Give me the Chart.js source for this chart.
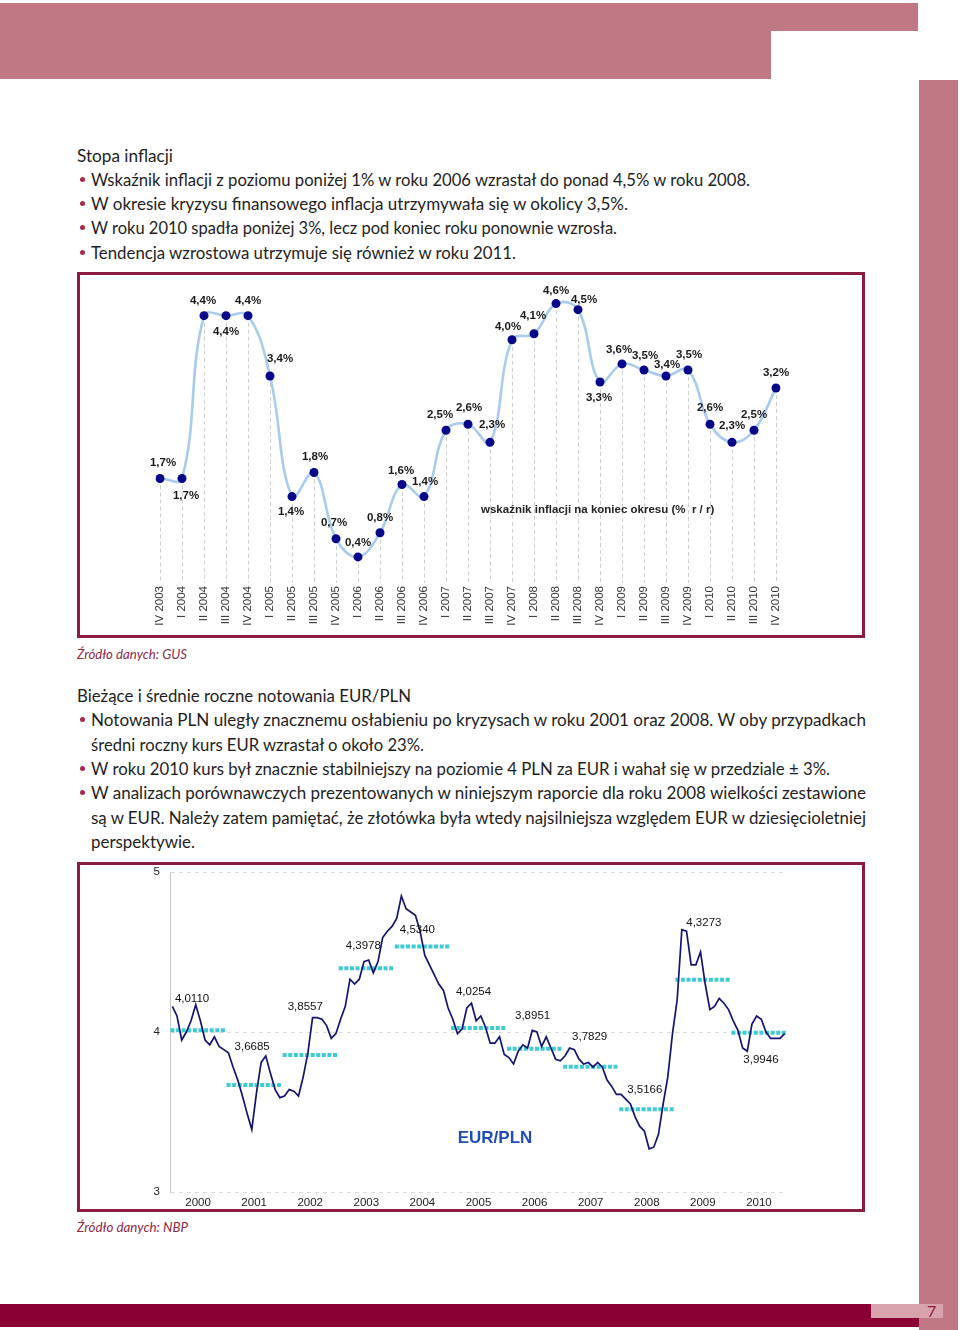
<!DOCTYPE html>
<html><head><meta charset="utf-8">
<script src="https://cdn.jsdelivr.net/npm/chart.js@4"></script>
<style>
body{margin:0;background:#fff;}
#page{position:relative;width:960px;height:1330px;overflow:hidden;background:#fff;font-family:Lato,'Open Sans',sans-serif;color:#1e1e1e;}
.blk{position:absolute;}
.ln{position:absolute;left:91px;font-size:18px;line-height:24px;height:24px;white-space:nowrap;transform-origin:0 50%;display:inline-block;}
.hd{left:77px;}
.dot{position:absolute;left:80px;width:5px;height:5px;border-radius:50%;background:#a3294d;}
.src{position:absolute;left:77px;font-size:14px;font-style:italic;color:#8b2a47;white-space:nowrap;line-height:18px;transform-origin:0 50%;display:inline-block;}
.box{position:absolute;left:77px;width:782px;border:3px solid #8a1c3f;background:#fff;}
.cv{position:absolute;left:0;top:0;}
</style>
</head><body>
<div id="page">
  <div class="blk" style="left:0;top:3px;width:918px;height:28px;background:#c07884"></div>
  <div class="blk" style="left:0;top:31px;width:771px;height:48px;background:#c07884"></div>
  <div class="blk" style="left:919px;top:80px;width:39px;height:1250px;background:#c07884"></div>
  <div class="blk" style="left:0;top:1304px;width:919px;height:23px;background:#8b0034"></div>
  <div class="blk" style="left:871px;top:1304px;width:72px;height:14px;background:#d9a3ad"></div>
  <div class="blk" style="left:927px;top:1302px;font-size:16px;line-height:18px;color:#8b1a3a;font-family:Lato,sans-serif">7</div>

  <div class="ln hd" data-w="96" style="top:143px">Stopa inflacji</div>
  <div class="dot" style="top:177px"></div>
  <div class="ln" data-w="659" style="top:167px">Wskaźnik inflacji z poziomu poniżej 1% w roku 2006 wzrastał do ponad 4,5% w roku 2008.</div>
  <div class="dot" style="top:201px"></div>
  <div class="ln" data-w="537" style="top:191px">W okresie kryzysu finansowego inflacja utrzymywała się w okolicy 3,5%.</div>
  <div class="dot" style="top:225px"></div>
  <div class="ln" data-w="526" style="top:215px">W roku 2010 spadła poniżej 3%, lecz pod koniec roku ponownie wzrosła.</div>
  <div class="dot" style="top:250px"></div>
  <div class="ln" data-w="425" style="top:240px">Tendencja wzrostowa utrzymuje się również w roku 2011.</div>

  <div class="box" style="top:272px;height:360px;">
    <canvas id="c1" class="cv" width="782" height="360"></canvas>
    <div style="position:absolute;left:401px;top:228px;font:bold 11.5px 'Liberation Sans',Arial,sans-serif;color:#222;white-space:nowrap">wskaźnik inflacji na koniec okresu (% &nbsp;r / r)</div>
  </div>

  <div class="src" data-w="110" style="top:645px">Źródło danych: GUS</div>

  <div class="ln hd" data-w="334" style="top:683px">Bieżące i średnie roczne notowania EUR/PLN</div>
  <div class="dot" style="top:717px"></div>
  <div class="ln" data-w="775" style="top:707px">Notowania PLN uległy znacznemu osłabieniu po kryzysach w roku 2001 oraz 2008. W oby przypadkach</div>
  <div class="ln" data-w="333" style="top:732px">średni roczny kurs EUR wzrastał o około 23%.</div>
  <div class="dot" style="top:766px"></div>
  <div class="ln" data-w="739" style="top:756px">W roku 2010 kurs był znacznie stabilniejszy na poziomie 4 PLN za EUR i wahał się w przedziale ± 3%.</div>
  <div class="dot" style="top:790px"></div>
  <div class="ln" data-w="775" style="top:780px">W analizach porównawczych prezentowanych w niniejszym raporcie dla roku 2008 wielkości zestawione</div>
  <div class="ln" data-w="775" style="top:805px">są w EUR. Należy zatem pamiętać, że złotówka była wtedy najsilniejsza względem EUR w dziesięcioletniej</div>
  <div class="ln" data-w="104" style="top:829px">perspektywie.</div>

  <div class="box" style="top:862px;height:344px;">
    <canvas id="c2" class="cv" width="782" height="344"></canvas>
    <div style="position:absolute;left:415px;top:263px;width:0;"><div style="position:absolute;transform:translateX(-50%);font:bold 17px 'Liberation Sans',Arial,sans-serif;color:#1f4db5;white-space:nowrap">EUR/PLN</div></div>
  </div>

  <div class="src" data-w="111" style="top:1218px">Źródło danych: NBP</div>
</div>

<script>
// ---------- DATA ----------
const quarters = ['IV 2003','I 2004','II 2004','III 2004','IV 2004','I 2005','II 2005','III 2005','IV 2005',
  'I 2006','II 2006','III 2006','IV 2006','I 2007','II 2007','III 2007','IV 2007','I 2008','II 2008','III 2008',
  'IV 2008','I 2009','II 2009','III 2009','IV 2009','I 2010','II 2010','III 2010','IV 2010'];
const inflation = [1.7,1.7,4.4,4.4,4.4,3.4,1.4,1.8,0.7,0.4,0.8,1.6,1.4,2.5,2.6,2.3,4.0,4.1,4.6,4.5,3.3,3.6,3.5,3.4,3.5,2.6,2.3,2.5,3.2];

const years = ['2000','2001','2002','2003','2004','2005','2006','2007','2008','2009','2010'];
const eurAnnualAvg = [4.0110,3.6685,3.8557,4.3978,4.5340,4.0254,3.8951,3.7829,3.5166,4.3273,3.9946];
const eurMonthly = [
  4.16,4.10,3.95,4.00,4.07,4.17,4.07,3.95,3.92,3.97,3.91,3.89,
  3.87,3.78,3.70,3.60,3.49,3.39,3.62,3.81,3.85,3.74,3.64,3.59,
  3.60,3.64,3.63,3.60,3.72,3.87,4.09,4.09,4.08,4.04,3.96,3.99,
  4.08,4.16,4.33,4.30,4.33,4.44,4.45,4.37,4.44,4.59,4.63,4.66,
  4.71,4.85,4.77,4.75,4.73,4.63,4.48,4.42,4.36,4.30,4.26,4.15,
  4.08,3.99,4.02,4.15,4.18,4.07,4.10,4.03,3.93,3.93,3.97,3.86,
  3.84,3.80,3.88,3.92,3.90,4.01,4.00,3.91,3.97,3.90,3.83,3.82,
  3.85,3.90,3.89,3.83,3.80,3.81,3.78,3.81,3.78,3.70,3.66,3.61,
  3.61,3.58,3.55,3.47,3.41,3.38,3.27,3.28,3.36,3.55,3.72,3.99,
  4.20,4.64,4.63,4.42,4.42,4.50,4.30,4.14,4.16,4.21,4.18,4.14,
  4.07,4.01,3.90,3.88,4.05,4.10,4.08,4.00,3.96,3.96,3.96,3.99
];

// ---------- STYLE (label placement) ----------
const infDx = [3,4,-1,0,0,10,-1,1,-2,0,0,-1,1,-6,1,2,-4,-1,0,6,-1,-3,1,1,1,0,0,0,0];
const infDy = [-16,17,-15,16,-15,-17,15,-16,-16,-14,-15,-14,-15,-15,-16,-17,-13,-18,-13,-10,16,-14,-14,-11,-15,-16,-16,-15,-15];
const avgDx = [-6,-2,-5,-3,-5,-5,-2,-1,-2,1,2];
const avgDy = [-31,-38,-48,-23,-17,-36,-33,-30,-20,-57,27];

const AR = "'Liberation Sans', Arial, sans-serif";

// ---------- CHART 1 ----------
const dropLines = {
  id:'dropLines',
  beforeDatasetsDraw(chart){
    const ctx = chart.ctx, meta = chart.getDatasetMeta(0), bottom = chart.chartArea.bottom + 2;
    ctx.save();
    ctx.strokeStyle = '#cfcfcf'; ctx.lineWidth = 1; ctx.setLineDash([4,3]);
    meta.data.forEach(p => { ctx.beginPath(); ctx.moveTo(Math.round(p.x)+0.5, p.y); ctx.lineTo(Math.round(p.x)+0.5, bottom); ctx.stroke(); });
    ctx.restore();
  }
};
const infLabels = {
  id:'infLabels',
  afterDatasetsDraw(chart){
    const ctx = chart.ctx, meta = chart.getDatasetMeta(0);
    ctx.save();
    ctx.font = 'bold 11.5px ' + AR; ctx.fillStyle = '#1a1a1a'; ctx.textAlign = 'center'; ctx.textBaseline = 'middle';
    meta.data.forEach((p,i) => {
      ctx.fillText(inflation[i].toFixed(1).replace('.',',') + '%', p.x + infDx[i], p.y + infDy[i]);
    });
    ctx.restore();
  }
};
new Chart(document.getElementById('c1'), {
  type:'line',
  data:{ labels: quarters, datasets:[{
    data: inflation, borderColor:'#a9cbee', borderWidth:2.6, tension:0.4,
    pointRadius:4.5, pointBackgroundColor:'#07078a', pointBorderWidth:0, pointBorderColor:'#07078a'
  }]},
  options:{
    responsive:false, animation:false,
    layout:{ padding:{ left:80, right:86, top:4, bottom:0 } },
    plugins:{ legend:{display:false}, tooltip:{enabled:false} },
    scales:{
      x:{ type:'category', offset:false, grid:{display:false}, border:{display:false},
          ticks:{ autoSkip:false, minRotation:90, maxRotation:90, padding:-3, color:'#333', font:{family:AR, size:11.5} },
          afterFit(s){ s.height = 54; } },
      y:{ display:false, min:0, max:5 }
    }
  },
  plugins:[dropLines, infLabels]
});

// ---------- CHART 2 ----------
const monthlyPts = eurMonthly.map((v,i) => ({x:i, y:v}));
const avgPts = [];
eurAnnualAvg.forEach((a,k) => {
  avgPts.push({x:12*k - 0.4, y:a});
  avgPts.push({x:12*k + 11.4, y:a});
  avgPts.push({x:12*k + 11.5, y:null});
});
const avgLabels = {
  id:'avgLabels',
  afterDatasetsDraw(chart){
    const ctx = chart.ctx, xs = chart.scales.x, ys = chart.scales.y;
    ctx.save();
    ctx.font = '11.5px ' + AR; ctx.fillStyle = '#111'; ctx.textAlign = 'center'; ctx.textBaseline = 'middle';
    eurAnnualAvg.forEach((a,k) => {
      ctx.fillText(a.toFixed(4).replace('.',','), xs.getPixelForValue(12*k + 5.5) + avgDx[k], ys.getPixelForValue(a) + avgDy[k]);
    });
    ctx.restore();
  }
};
new Chart(document.getElementById('c2'), {
  type:'line',
  data:{ datasets:[
    { data: monthlyPts, borderColor:'#14146e', borderWidth:1.7, tension:0, pointRadius:0 },
    { data: avgPts, borderColor:'#3fcbd3', borderWidth:4, borderDash:[4,1.6], borderCapStyle:'butt', tension:0, pointRadius:0, spanGaps:false }
  ]},
  options:{
    responsive:false, animation:false,
    layout:{ padding:{ left:0, right:75, top:7, bottom:0 } },
    plugins:{ legend:{display:false}, tooltip:{enabled:false} },
    scales:{
      x:{ type:'linear', min:-0.5, max:131.5, grid:{display:false, drawTicks:false}, border:{display:false},
          afterBuildTicks(s){ s.ticks = years.map((y,k) => ({value:12*k + 5.5})); },
          ticks:{ padding:4, color:'#222', font:{family:AR, size:11.5}, maxRotation:0, autoSkip:false,
                  callback:(v,i) => years[i] },
          afterFit(s){ s.height = 17; s.paddingLeft = 0; s.paddingRight = 0; } },
      y:{ min:3, max:5, grid:{ color:'#dcdcdc', drawTicks:false }, border:{ display:true, color:'#c4c4c4', dash:[4,4] },
          ticks:{ stepSize:1, padding:10, color:'#222', font:{family:AR, size:11.5} },
          afterFit(s){ s.width = 90; s.paddingTop = 0; s.paddingBottom = 0; } }
    }
  },
  plugins:[avgLabels]
});

// ---------- text fitting ----------
function fit(){
  document.querySelectorAll('[data-w]').forEach(el => {
    el.style.transform = 'none';
    const w = el.getBoundingClientRect().width;
    const t = parseFloat(el.dataset.w);
    if (w > 0) el.style.transform = 'scaleX(' + (t / w) + ')';
  });
}
fit();
if (document.fonts && document.fonts.ready) document.fonts.ready.then(fit);
</script>
</body></html>
